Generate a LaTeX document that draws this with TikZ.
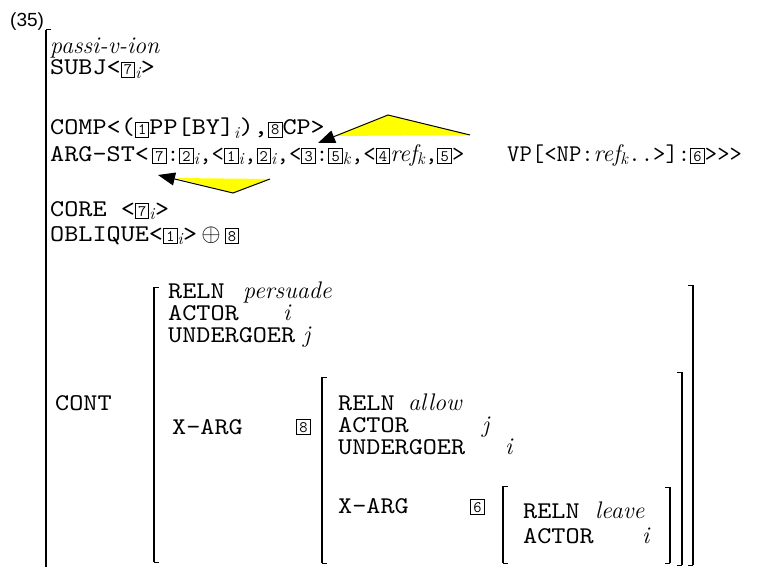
\documentclass[tikz,border=0pt]{standalone}
\usepackage{fontspec}
\usepackage{amsmath,amssymb}
\usetikzlibrary{arrows.meta}
\newfontfamily\numfont{Liberation Sans}
\newfontfamily\widett[FakeStretch=1.12]{lmmono10-regular.otf}
\definecolor{callout}{HTML}{FFFF00}
\newcommand{\toptt}{\fontsize{24}{26}\selectfont\ttfamily}
\newcommand{\bigtt}{\fontsize{24}{26}\selectfont\widett}
\newcommand{\avmit}{\fontsize{24}{26}\selectfont\rmfamily\itshape}
\newcommand{\idx}[1]{\textsubscript{\rmfamily\itshape #1}}
\newcommand{\tg}[1]{{\fboxsep=1.8pt\fboxrule=1pt\fbox{\fontsize{16}{16}\selectfont\ttfamily\makebox[9pt]{\vphantom{8}#1}}}}
\newcommand{\avmL}[3]{\draw[serif] (#1+5,#2) -- (#1,#2) (#1,#3) -- (#1+5,#3); \draw[stem] (#1,#2) -- (#1,#3);}
\newcommand{\avmR}[3]{\draw[serif] (#1-5,#2) -- (#1,#2) (#1,#3) -- (#1-5,#3); \draw[stem] (#1,#2) -- (#1,#3);}

\begin{document}
\begin{tikzpicture}[x=1pt,y=-1pt,
  topline/.style={anchor=base west,inner sep=0pt,text height=13pt,text depth=3pt,font=\toptt},
  featline/.style={anchor=base west,inner sep=0pt,text height=13pt,text depth=3pt,font=\bigtt},
  valit/.style={anchor=base west,inner sep=0pt,text height=11pt,text depth=4pt,font=\avmit},
  serif/.style={line width=1pt},
  stem/.style={line width=2.4pt},
  callarrow/.style={line width=1pt,-{Triangle[length=17pt,width=13pt]}}]
\useasboundingbox (0,0) rectangle (760,567);
\node[anchor=base west,inner sep=0pt,font=\fontsize{19}{21}\selectfont\numfont] (num) at (10,27) {(35)};
\avmL{46}{30}{575}
\node[valit] (lex) at (50,54) {passi-v-ion};
\node[featline] (subj) at (50,75) {SUBJ<\tg{7}\idx{i}>};
\node[featline] (comp) at (50,135) {COMP<(\tg{1}PP[BY]\idx{i}),\tg{8}CP>};
\node[featline] (argst) at (50,161) {ARG-ST<};
\node[topline] (arglist) at (152,161) {\tg{7}:\tg{2}\idx{i},<\tg{1}\idx{i},\tg{2}\idx{i},<\tg{3}:\tg{5}\idx{k},<\tg{4}{\rmfamily\itshape ref}\idx{k},\tg{5}>};
\node[topline] (argvp) at (507,161) {VP[<NP:{\rmfamily\itshape ref}\idx{k}..>]:\tg{6}>>>};
\node[featline] (core) at (50,216) {CORE <\tg{7}\idx{i}>};
\node[featline] (obl) at (50,241) {OBLIQUE<\tg{1}\idx{i}>\,$\oplus$\,\tg{8}};

\coordinate (upTip) at (318,143);
\coordinate (upApex) at (388,115);
\coordinate (upEnd) at (470,135);
\coordinate (upFoot) at (334,136);
\fill[callout] (upFoot) -- (upApex) -- (upEnd) -- cycle;
\draw[callarrow] (upEnd) -- (upApex) -- (upTip);
\coordinate (loTip) at (158,175);
\coordinate (loApex) at (233,193);
\coordinate (loEnd) at (270,179);
\coordinate (loFoot) at (176,178);
\fill[callout] (loFoot) -- (loEnd) -- (loApex) -- cycle;
\draw[callarrow] (loEnd) -- (loApex) -- (loTip);

\node[featline] (cont) at (55,410) {CONT};
\avmL{154}{287}{562}
\avmR{693}{285}{565}
\node[featline] (reln1) at (168,298) {RELN};
\node[valit] (pers) at (243,298) {persuade};
\node[featline] (act1) at (168,320) {ACTOR};
\node[valit] (act1v) at (283,320) {i};
\node[featline] (und1) at (168,342) {UNDERGOER};
\node[valit] (und1v) at (303,342) {j};
\node[featline] (xarg1) at (172,434) {X-ARG};
\node[anchor=base west,inner sep=0pt] (tag8) at (296,432) {\tg{8}};

\avmL{322}{377}{563}
\avmR{682}{372}{565}
\node[featline] (reln2) at (338,410) {RELN};
\node[valit] (allow) at (408,410) {allow};
\node[featline] (act2) at (338,432) {ACTOR};
\node[valit] (act2v) at (482,432) {j};
\node[featline] (und2) at (338,454) {UNDERGOER};
\node[valit] (und2v) at (505,454) {i};
\node[featline] (xarg2) at (338,513) {X-ARG};
\node[anchor=base west,inner sep=0pt] (tag6) at (470,512) {\tg{6}};

\avmL{503}{486}{563}
\avmR{670}{487}{563}
\node[featline] (reln3) at (523,518) {RELN};
\node[valit] (leave) at (595,518) {leave};
\node[featline] (act3) at (523,543) {ACTOR};
\node[valit] (act3v) at (642,543) {i};
\end{tikzpicture}
\end{document}
